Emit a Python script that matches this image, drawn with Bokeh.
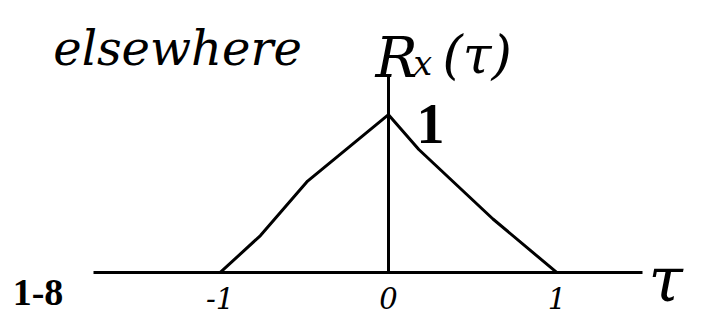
from bokeh.plotting import figure
from bokeh.models import Range1d, LinearAxis, FixedTicker, Label, ColumnDataSource
from bokeh.embed import file_html
from bokeh.resources import INLINE

# ---- data ----
tau = [-1.0, -0.76, -0.48, 0.0, 0.18, 0.62, 1.0]
r_x = [0.0, 0.235, 0.58, 1.0, 0.78, 0.34, 0.0]
tick_values = [-1, 0, 1]
tick_labels = ["-1", "0", "1"]
peak_label = "1"
note_word = "elsewhere"
fn_main, fn_sub, fn_arg = "R", "x", "(τ)"
axis_name = "τ"
fig_label = "1-8"

src = ColumnDataSource(data=dict(tau=tau, r=r_x))

p = figure(width=700, height=315, x_range=Range1d(-2.303, 1.852),
           y_range=Range1d(-0.271, 1.723), output_backend="svg",
           toolbar_location=None, min_border=0, x_axis_type=None,
           y_axis_type=None, outline_line_color=None,
           background_fill_color="white", border_fill_color="white")

# horizontal tau axis, drawn at r = 0
xaxis = LinearAxis(fixed_location=0, bounds=(-1.75, 1.51),
                   ticker=FixedTicker(ticks=tick_values),
                   major_label_overrides={v: s for v, s in zip(tick_values, tick_labels)},
                   major_tick_line_color=None, minor_tick_line_color=None,
                   axis_line_width=3, axis_line_color="black",
                   major_label_text_font="DejaVu Serif",
                   major_label_text_font_style="italic",
                   major_label_text_font_size="29px",
                   major_label_text_color="black",
                   major_label_standoff=8)
p.add_layout(xaxis, "below")

# vertical R axis, drawn at tau = 0
yaxis = LinearAxis(fixed_location=0, bounds=(0, 1.24),
                   ticker=FixedTicker(ticks=[]),
                   major_tick_line_color=None, minor_tick_line_color=None,
                   major_label_text_font_size="0px",
                   axis_line_width=3, axis_line_color="black")
p.add_layout(yaxis, "left")

p.line("tau", "r", source=src, line_width=3, line_color="black")

def lab(text, x, y, font, size, style="normal", align="left"):
    p.add_layout(Label(x=x, y=y, text=text, text_font=font,
                       text_font_size=size, text_font_style=style,
                       text_align=align, text_baseline="alphabetic",
                       text_color="black"))

lab(note_word, -1.99, 1.422, "DejaVu Serif", "48px", "italic")
lab(fn_main, -0.077, 1.361, "DejaVu Serif", "56px", "italic")
lab(fn_sub, 0.148, 1.325, "DejaVu Serif", "33px", "italic")
lab(fn_arg, 0.320, 1.38, "DejaVu Serif", "52px", "italic")
lab(peak_label, 0.249, 0.94, "Liberation Serif", "56px", "bold", "center")
lab(axis_name, 1.543, -0.042, "DejaVu Serif", "62px", "italic")
lab(fig_label, -2.231, -0.125, "Liberation Serif", "38px", "bold")

open("out.html", "w").write(file_html(p, INLINE))
